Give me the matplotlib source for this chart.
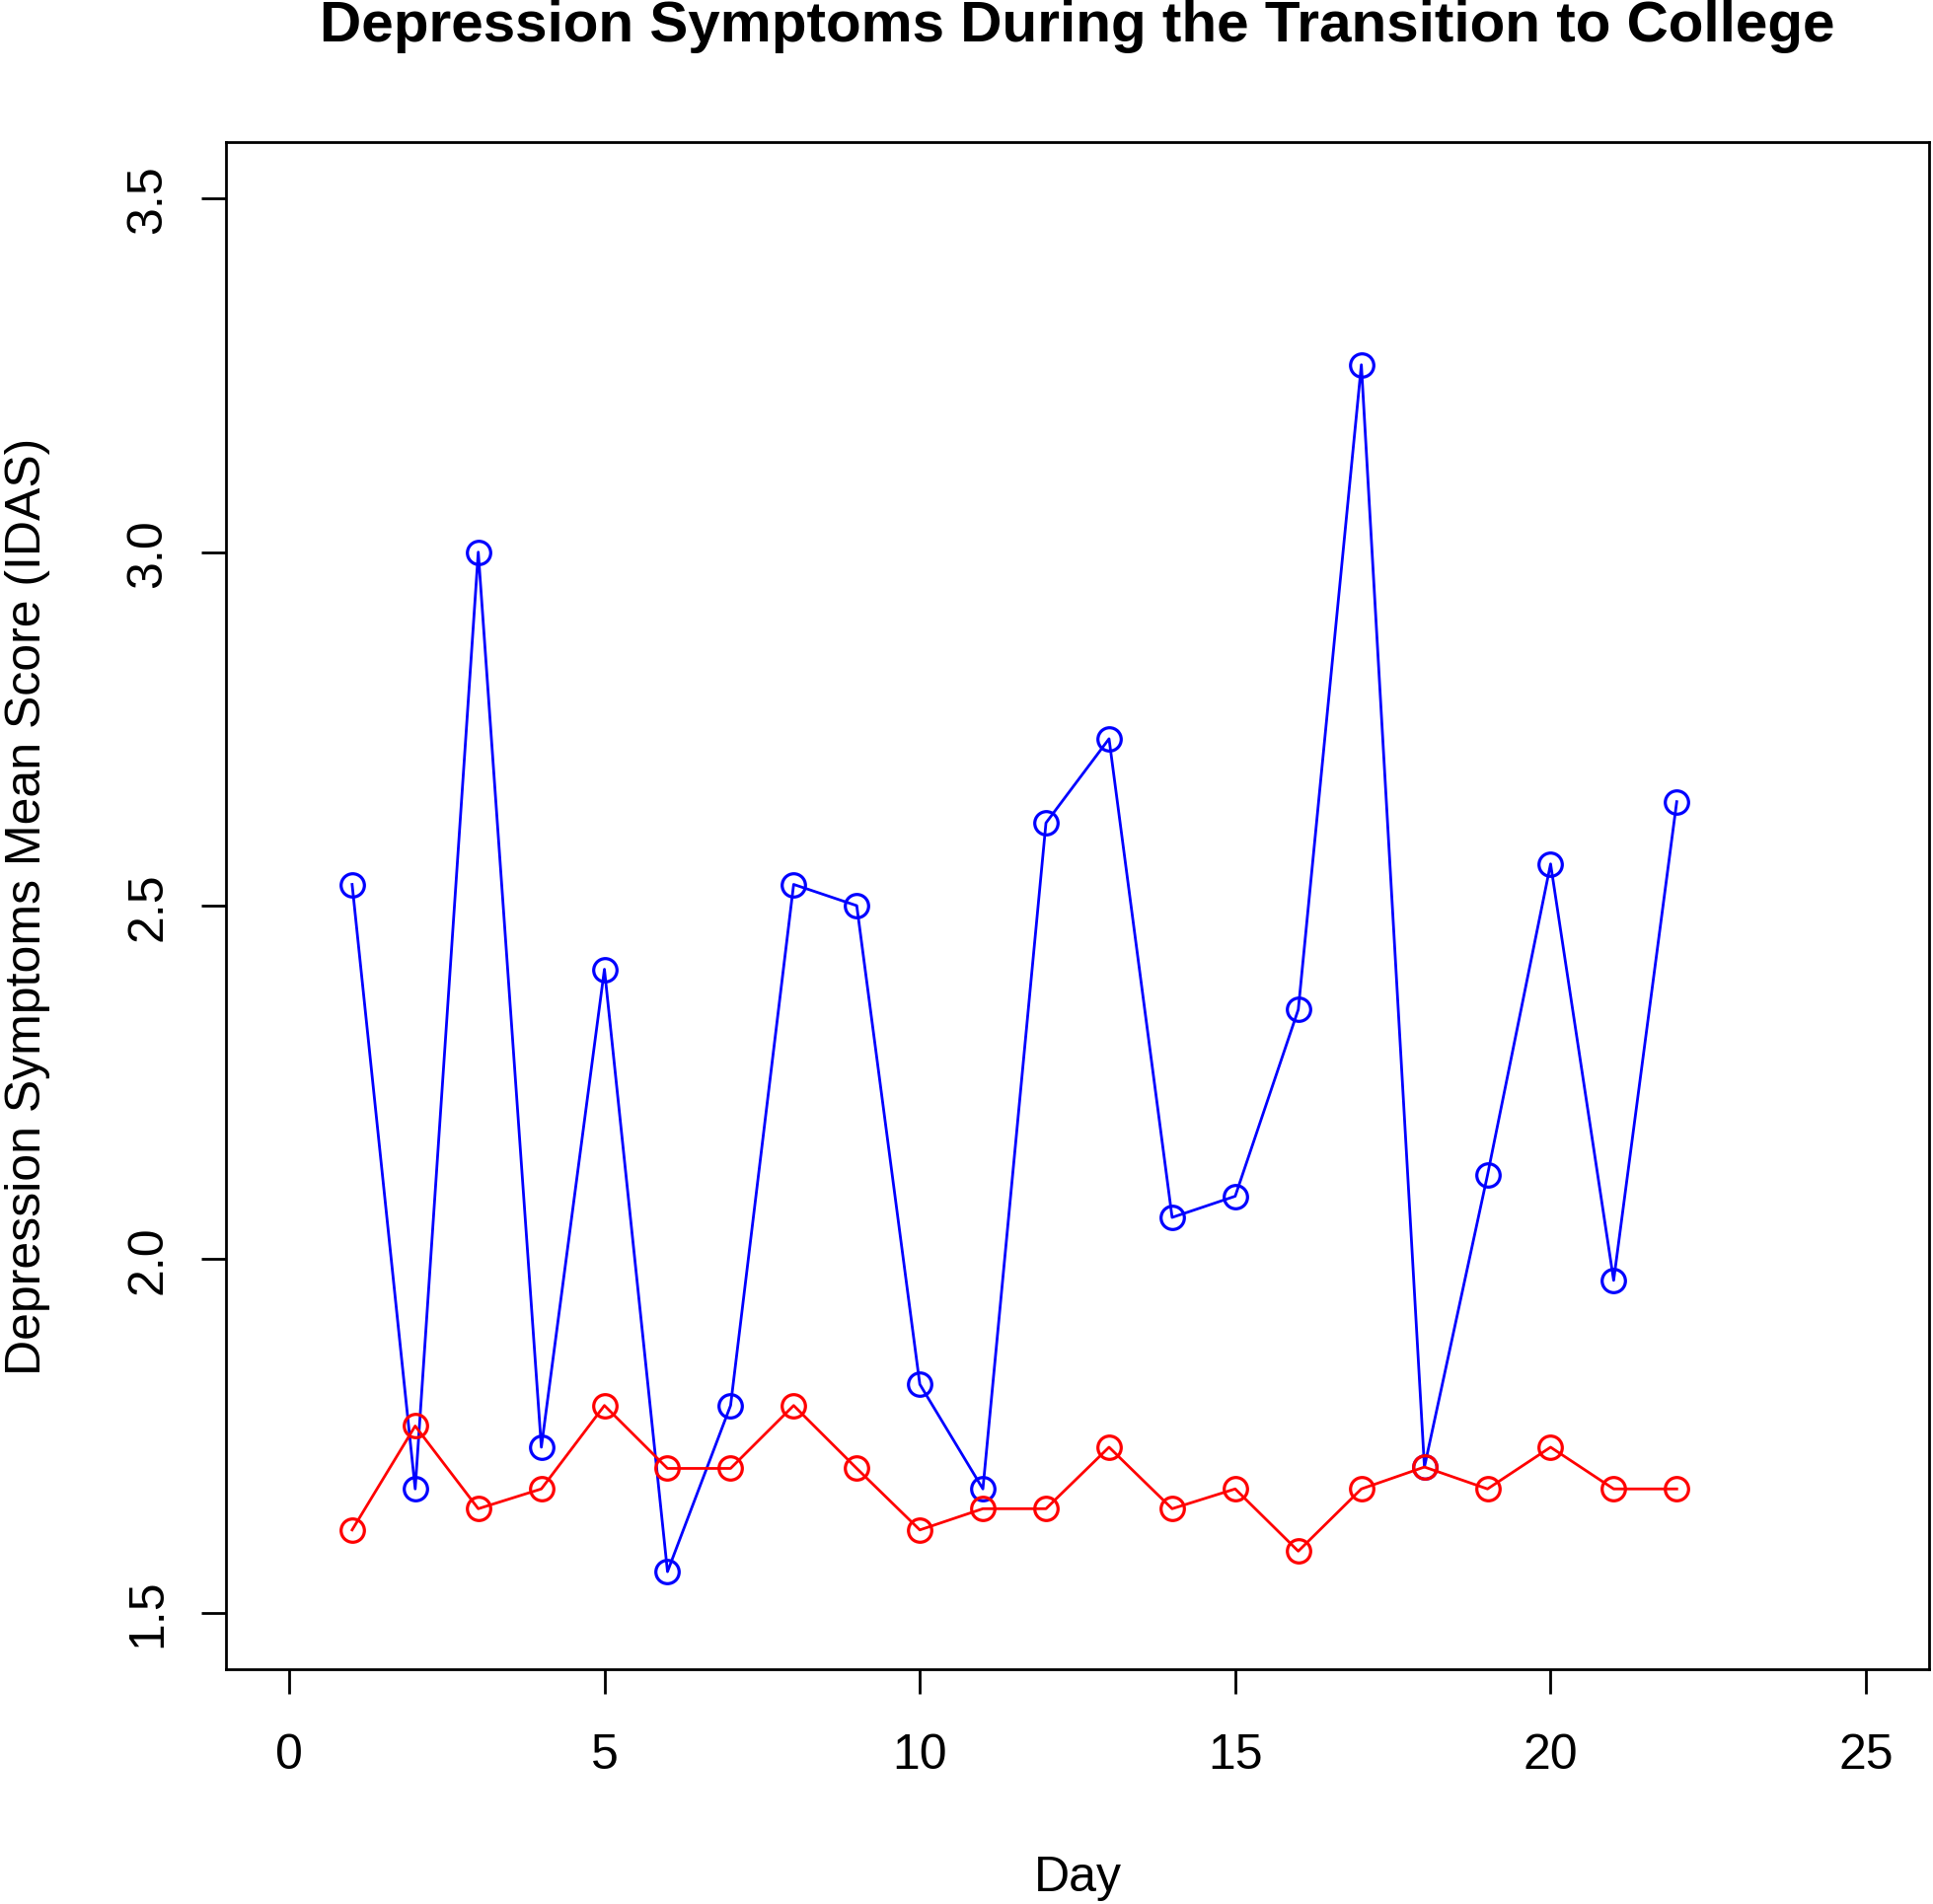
import matplotlib
matplotlib.use("Agg")
import matplotlib.pyplot as plt

# Daily mean IDAS depression scores
days = list(range(1, 23))
group_blue = [2.53, 1.675, 3.00, 1.734, 2.41, 1.558, 1.793, 2.53, 2.50, 1.823, 1.675,
              2.617, 2.736, 2.059, 2.089, 2.353, 3.265, 1.706, 2.119, 2.559, 1.97, 2.647]
group_red = [1.617, 1.764, 1.647, 1.675, 1.793, 1.704, 1.704, 1.793, 1.704, 1.617, 1.647,
             1.647, 1.734, 1.647, 1.675, 1.587, 1.675, 1.706, 1.675, 1.734, 1.675, 1.675]
x_ticks = [0, 5, 10, 15, 20, 25]
y_ticks = [1.5, 2.0, 2.5, 3.0, 3.5]

plt.rcParams["font.family"] = ["Liberation Sans", "DejaVu Sans"]

W, H = 1959, 1931
fig = plt.figure(figsize=(W / 100, H / 100), dpi=100)
ax = fig.add_axes([229 / W, 1 - 1693 / H, (1955 - 229) / W, (1693 - 145) / H])

style = dict(marker="o", markersize=17, markerfacecolor="none", markeredgewidth=2.3,
             linewidth=2.0)
ax.plot(days, group_blue, color="blue", **style)
ax.plot(days, group_red, color="red", **style)

ax.set_xlim(-1, 26)
ax.set_ylim(1.42, 3.58)
ax.set_xticks(x_ticks)
ax.set_xticklabels([str(t) for t in x_ticks])
ax.set_yticks(y_ticks)
ax.set_yticklabels([f"{t:.1f}" for t in y_ticks], rotation=90, va="center")
ax.tick_params(axis="both", direction="out", length=18, width=2, labelsize=36)
ax.tick_params(axis="x", pad=28)
ax.tick_params(axis="y", pad=22)

for s in ax.spines.values():
    s.set_linewidth(2)

ax.set_xlabel("Day", fontsize=36, labelpad=56)
ax.set_ylabel("Depression Symptoms Mean Score (IDAS)", fontsize=36, labelpad=55)
fig.text(0.5 * (229 + 1955) / W, 1 - 27 / H,
         "Depression Symptoms During the Transition to College",
         ha="center", va="center", fontsize=42, fontweight="bold")

fig.savefig("out.png", dpi=100)
